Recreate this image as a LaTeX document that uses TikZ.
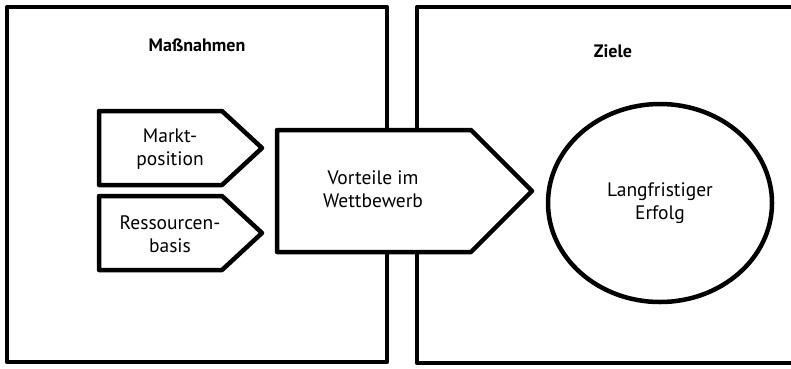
\documentclass[tikz,border=0pt]{standalone}
\usepackage{fontspec}
\setmainfont{PT Sans}
\usepackage{tikz}
\usetikzlibrary{calc,shapes.geometric}

\begin{document}
\begin{tikzpicture}[x=1pt,y=-1pt,
    frame/.style={line width=4.5pt,line join=round},
    arrowbox/.style={frame,fill=white},
    label/.style={align=center,font=\fontsize{19.5}{23.5}\selectfont},
    heading/.style={font=\fontsize{18}{20}\selectfont\bfseries}]
            \useasboundingbox (0,0) rectangle (791,368);

            % Boxes
            \draw[frame] (7,7) rectangle (387,362);
            \draw[frame] (417,7) -- (417,363) -- (820,363) -- (820,7) -- cycle;

            \node[heading] (massnahmen) at (197,45) {Maßnahmen};
            \node[heading] (ziele) at (613,51) {Ziele};

            % Small arrows
            \foreach \yc/\nm/\txt in {148/markt/Markt-\\position, 233/ressourcen/Ressourcen-\\basis} {
                \draw[arrowbox] (99,\yc-37) -- (222,\yc-37) -- (262,\yc) -- (222,\yc+37) -- (99,\yc+37) -- cycle;
                \node[label] (\nm) at (170,\yc+1) {\txt};
            }

            % Big arrow
            \draw[arrowbox] (277,130) -- (471,130) -- (532,191) -- (471,252) -- (277,252) -- cycle;
            \node[label] (vorteile) at (373,189) {Vorteile im\\Wettbewerb};

            % Goal
            \node[frame,draw,ellipse,label,minimum width=224pt,minimum height=198pt,inner sep=0pt] (erfolg) at (660,203) {Langfristiger\\Erfolg};

        \end{tikzpicture}
\end{document}
